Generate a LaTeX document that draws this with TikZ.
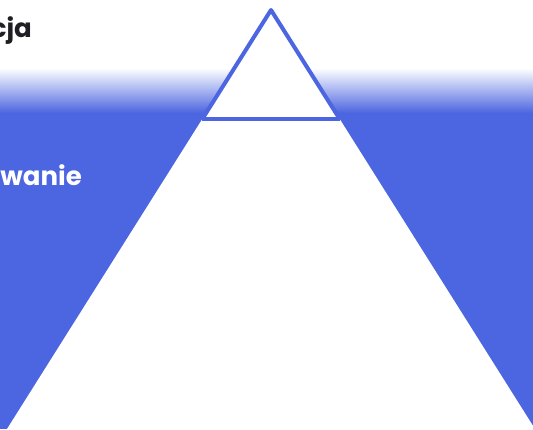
\documentclass[tikz,border=0pt]{standalone}
\usepackage{fontspec}
\setmainfont{Poppins}
\definecolor{myblue}{RGB}{76,101,224}
\definecolor{mytext}{RGB}{30,30,36}
\tikzset{
  lbl/.style={font=\bfseries\fontsize{26}{30}\selectfont, inner sep=0pt, anchor=base east},
  outline/.style={draw=myblue, line width=4pt, line join=round}
}
\begin{document}
\begin{tikzpicture}[x=1pt,y=-1pt]
\useasboundingbox (0,0) rectangle (533,429);
\fill[white] (0,0) rectangle (533,429);
\shade[top color=white,bottom color=myblue] (0,68) rectangle (533,113);
\fill[myblue] (0,112.5) rectangle (533,429);
\coordinate (apex) at (271,10);
\coordinate (bl) at (7,429);
\coordinate (br) at (535,429);
\coordinate (ml) at (202.3,119);
\coordinate (mr) at (339.7,119);
\fill[white] (apex) -- (bl) -- (br) -- cycle;
\draw[outline] (ml) -- (apex) -- (mr);
\draw[myblue, line width=3.5pt] (ml) -- (mr);
\node[lbl, text=mytext] (t1) at (32,37) {cja};
\node[lbl, text=white] (t2) at (82,185) {wanie};
\end{tikzpicture}
\end{document}
